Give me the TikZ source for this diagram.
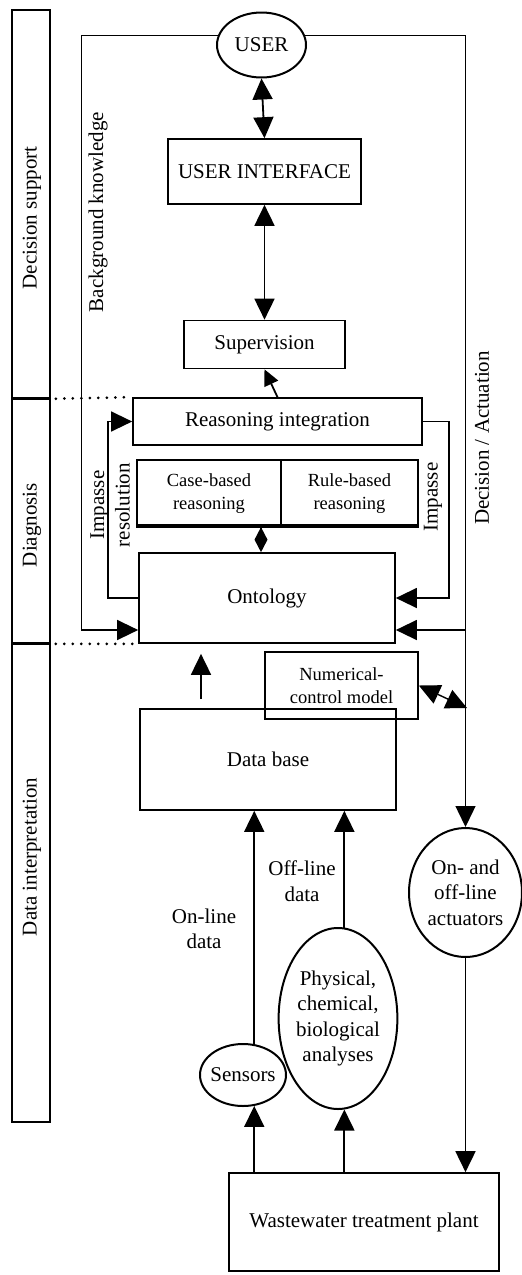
\documentclass[tikz,border=0pt]{standalone}
\usepackage{fontspec}
\setmainfont{Liberation Serif}
\usepackage{tikz}
\usetikzlibrary{arrows.meta, shapes.geometric, calc, positioning}
\newcommand{\mainsize}{\fontsize{21}{25.5}\selectfont}
\newcommand{\smallsize}{\fontsize{18.5}{23}\selectfont}
\tikzset{>={Triangle[length=21pt,width=20pt]},
	box/.style={draw, line width=1.7pt, inner sep=0pt, font=\mainsize, align=center},
	oval/.style={draw, ellipse, line width=2pt, inner sep=0pt, font=\mainsize, align=center},
	lane/.style={draw, line width=1.7pt, minimum width=38pt, inner sep=0pt},
	lbl/.style={font=\mainsize, align=center, inner sep=0pt},
	flow/.style={line width=1.8pt},
	fb/.style={line width=1.4pt},
	sep/.style={line width=3pt, dash pattern=on 0pt off 8.5pt, line cap=round, shorten <=5pt, shorten >=5pt}}

\begin{document}
\begin{tikzpicture}[x=1pt,y=-1pt]

	\useasboundingbox (0,0) rectangle (522,1275);

	% lanes on the left
	\node [lane, minimum height=388pt] (decision) at (31,204) {};
	\node [lane, minimum height=245pt] (diagnosis) at (31,520.5) {};
	\node [lane, minimum height=479pt] (interpret) at (31,882.5) {};
	\draw [line width=3.2pt] (decision.south west) -- (decision.south east);
	\draw [line width=3.2pt] (diagnosis.south west) -- (diagnosis.south east);
	\node [lbl, rotate=90] (decisionlbl) at (32,218) {Decision support};
	\node [lbl, rotate=90] (diagnosislbl) at (32,525) {Diagnosis};
	\node [lbl, rotate=90] (interpretlbl) at (32,857) {Data interpretation};

	% blocks
	\node [oval, minimum width=89pt, minimum height=65pt] (user) at (261.5,45) {USER};
	\node [box, minimum width=193pt, minimum height=65pt] (ui) at (264.5,171.5) {USER INTERFACE};
	\node [box, minimum width=161pt, minimum height=48pt] (superv) at (264.5,344.5) {Supervision};
	\node [box, minimum width=289pt, minimum height=47pt] (reasint) at (277.5,421.5) {Reasoning integration};
	\node [box, font=\smallsize, minimum width=144pt, minimum height=67pt] (cbr) at (209,493.5) {Case-based\\reasoning};
	\node [box, font=\smallsize, minimum width=137pt, minimum height=67pt] (rbr) at (349.5,493.5) {Rule-based\\reasoning};
	\draw [line width=4.5pt] ([yshift=2pt]cbr.south west) -- ([yshift=2pt]rbr.south east);
	\node [box, minimum width=256pt, minimum height=90pt] (onto) at (267,598) {Ontology};
	\node [box, minimum width=256pt, minimum height=101pt] (dbase) at (268,759.5) {Data base};
	\node [box, font=\smallsize, minimum width=153pt, minimum height=67pt] (numctrl) at (341.5,685.5) {Numerical-\\control model};
	\node [oval, minimum width=86pt, minimum height=62pt, inner xsep=-3pt] (sensors) at (243,1075) {Sensors};
	\node [oval, minimum width=116pt, minimum height=181pt] (analyses) at (338,1018.5) {Physical,\\chemical,\\biological\\analyses};
	\node [oval, minimum width=113pt, minimum height=129pt] (actuators) at (465.5,892.5) {On- and\\off-line\\actuators};
	\node [box, minimum width=270pt, minimum height=98pt] (plant) at (364,1222) {Wastewater treatment plant};

	% texts along the lines
	\node [lbl, rotate=90] (bklbl) at (98,212) {Background knowledge};
	\node [lbl, rotate=90] (actlbl) at (482,438) {Decision / Actuation};
	\node [lbl, rotate=90] (reslbl) at (110,505) {Impasse\\resolution};
	\node [lbl, rotate=90] (implbl) at (433,497) {Impasse};
	\node [lbl] (onlbl) at (204,929) {On-line\\data};
	\node [lbl] (offlbl) at (302,881) {Off-line\\data};

	\coordinate (bkc) at (81.7,630);
	\coordinate (dac) at (466,630);
	\coordinate (ncmend) at (467,708);
	\coordinate (dtop) at (261,527);
	\coordinate (dbx) at (201,0);

	% main flow
	\draw [flow,<->] (user.south) -- (ui.north);
	\draw [flow,<->] (ui.south) -- (superv.north);
	\draw [flow,-{Triangle[length=16pt,width=15pt]}] (reasint.north) -- (superv.south);
	\draw [flow,-{Diamond[length=25pt,width=13pt]}] (dtop) -- (dtop |- onto.north);
	\draw [flow,->,shorten <=9pt,shorten >=10pt] (dbase.north -| dbx) -- (onto.south -| dbx);
	\draw [flow,->] (sensors.70) -- (sensors.70 |- dbase.south);
	\draw [flow,->] (analyses.86) -- (analyses.86 |- dbase.south);
	\draw [flow,->] (sensors.-70 |- plant.north) -- (sensors.-70);
	\draw [flow,->] (analyses.-86 |- plant.north) -- (analyses.-86);
	\draw [flow,->] (actuators.south) -- (actuators.south |- plant.north);

	% feedback
	\draw [fb,->] (user.168) -| (bkc) -- (bkc -| onto.west);
	\draw [fb,->] (user.12) -| (actuators.north);
	\draw [fb,->] (dac) -- (dac -| onto.east);
	\draw [fb,->] (reasint.east) -- ++(26,0) |- (onto.east);
	\draw [fb,->] (onto.west) -- ++(-30,0) |- (reasint.west);
	\draw [fb,<->] (numctrl.east) -- (ncmend);

	\draw [sep] (decision.south east) -- (reasint.north west);
	\draw [sep] (diagnosis.south east) -- (onto.south west);

\end{tikzpicture}
\end{document}
